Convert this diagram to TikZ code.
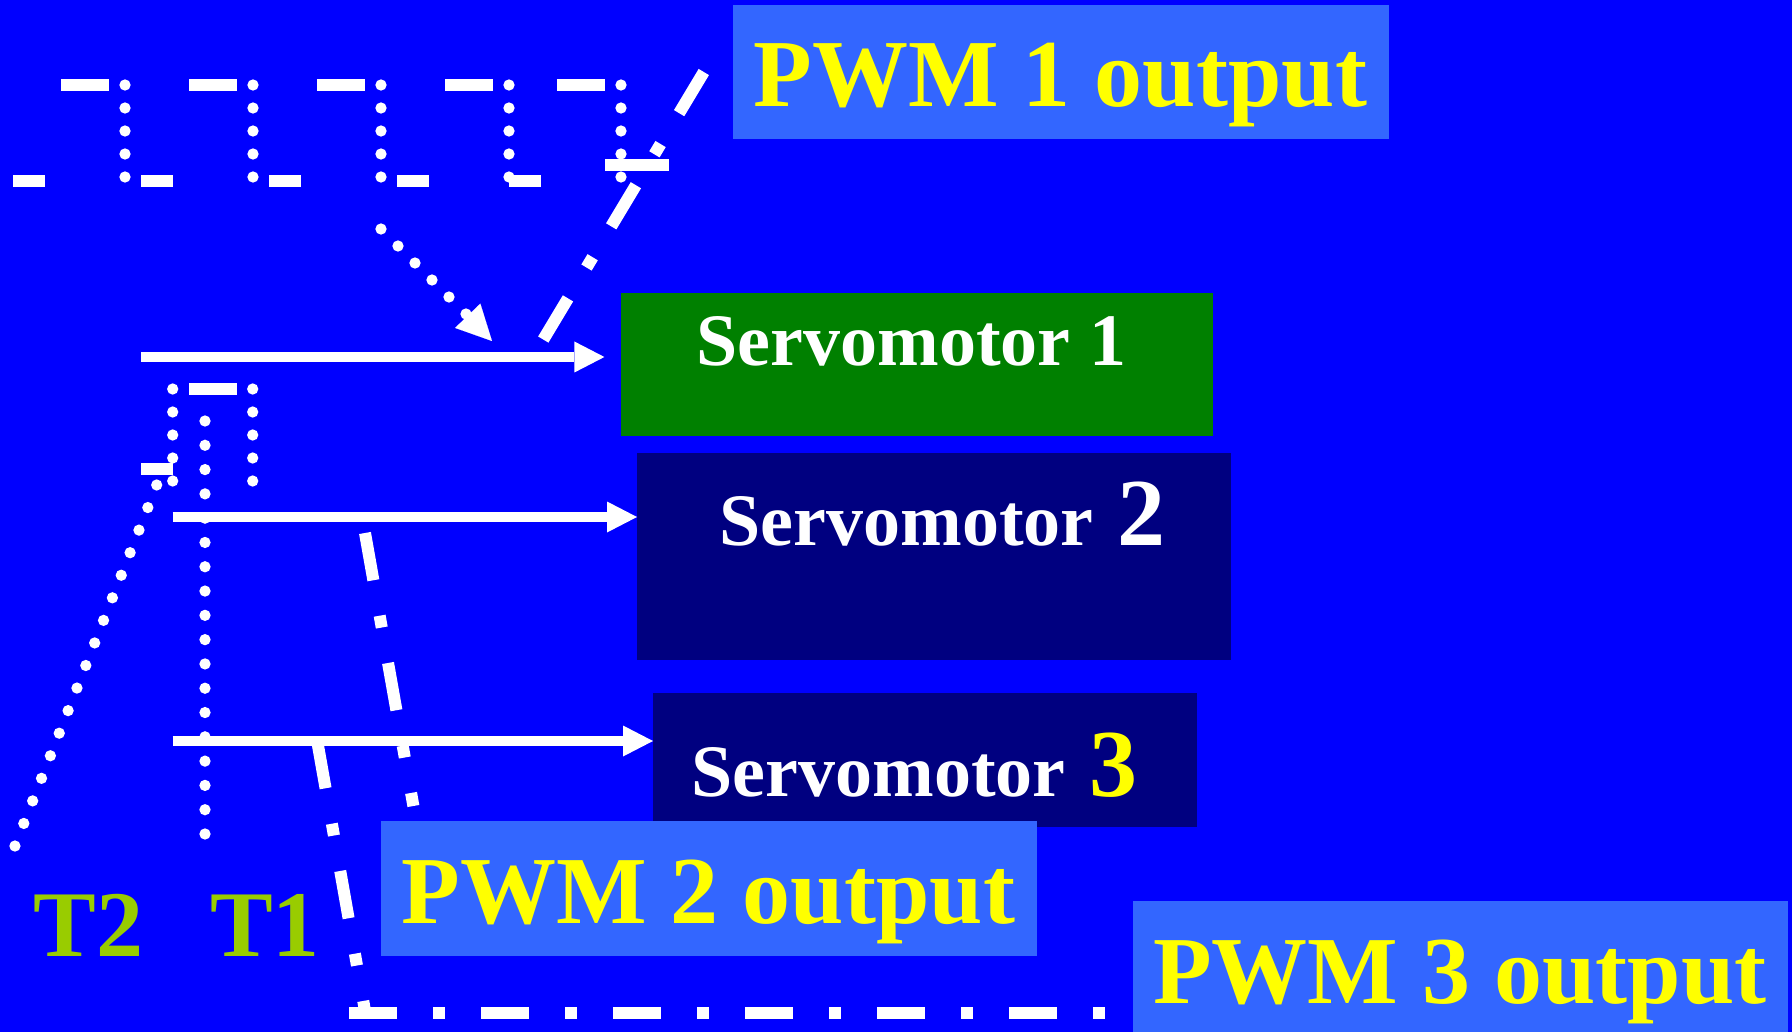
\documentclass[tikz,border=0pt]{standalone}
\usepackage{fontspec}
\setmainfont{Liberation Serif}
\usetikzlibrary{arrows.meta}
\definecolor{bgblue}{HTML}{0000FF}
\definecolor{pwmbox}{HTML}{3366FF}
\definecolor{tgreen}{HTML}{99CC00}
\definecolor{servogreen}{HTML}{008000}
\definecolor{servonavy}{HTML}{000080}
\definecolor{pwmyellow}{HTML}{FFFF00}
\begin{document}
\begin{tikzpicture}[x=1pt,y=-1pt,
  box/.style={draw=none, inner sep=0pt, outer sep=0pt, anchor=north west},
  pwmtext/.style={text=pwmyellow, anchor=base west, inner sep=0pt, font=\fontsize{96}{100}\selectfont\bfseries},
  ttext/.style={text=tgreen, anchor=base west, inner sep=0pt, font=\fontsize{94}{100}\selectfont\bfseries},
  servotext/.style={text=white, anchor=base west, inner sep=0pt, font=\fontsize{74}{80}\selectfont\bfseries},
  seg/.style={white, line width=11.5pt},
  dots/.style={white, line width=11.3pt, line cap=round, dash pattern=on 0pt off 23pt},
  sigline/.style={white, line width=10.7pt, -{Triangle[length=30pt,width=31pt,line width=0pt]}},
  pwmline/.style={white, line width=12pt, dash pattern=on 48pt off 36pt on 12pt off 36pt},
]
\fill[bgblue] (0,0) rectangle (1792,1032);
\useasboundingbox (0,0) rectangle (1792,1032);

% boxes
\node[box, fill=pwmbox, minimum width=656pt, minimum height=134pt] (pwm1box) at (733,5) {};
\node[box, fill=servogreen, minimum width=592pt, minimum height=143pt] (s1box) at (621,293) {};
\node[box, fill=servonavy, minimum width=594pt, minimum height=207pt] (s2box) at (637,453) {};
\node[box, fill=servonavy, minimum width=544pt, minimum height=134pt] (s3box) at (653,693) {};
\node[box, fill=pwmbox, minimum width=656pt, minimum height=135pt] (pwm2box) at (381,821) {};
\node[box, fill=pwmbox, minimum width=655pt, minimum height=140pt] (pwm3box) at (1133,901) {};

% texts
\node[pwmtext] (pwm1txt) at (753.5,107) {PWM 1 output};
\node[pwmtext] (pwm2txt) at (401.5,923) {PWM 2 output};
\node[pwmtext] (pwm3txt) at (1153,1003) {PWM 3 output};
\node[ttext] (t2) at (33.5,956) {T2};
\node[ttext] (t1) at (210,956) {T1};
\node[servotext] (s1txt) at (696.5,366) {Servomotor 1};
\node[servotext] (s2txt) at (719.5,545) {Servomotor{\fontsize{96}{100}\selectfont\space 2}};
\node[servotext] (s3txt) at (691.5,796) {Servomotor{\fontsize{96}{100}\selectfont\space\textcolor{pwmyellow}{3}}};

% top pulse train
\foreach \a/\b in {61/109,189/237,317/365,445/493,557/605}
  \draw[seg] (\a,85) -- (\b,85);
\foreach \a/\b in {13/45,141/173,269/301,397/429,509/541}
  \draw[seg] (\a,181) -- (\b,181);
\draw[seg] (605,165) -- (669,165);
\foreach \x in {125,253,381,509,621}
  \draw[dots] (\x,85) -- (\x,178);

% lower pulse
\draw[seg] (189,389) -- (237,389);
\draw[seg] (141,469) -- (173,469);
\foreach \x in {172.7,252.7}
  \draw[dots] (\x,389) -- (\x,482);
\coordinate (t1top) at (205,421);
\coordinate (t1bot) at (205,835);
\draw[dots, dash pattern=on 0pt off 24.294pt] (t1top) -- (t1bot);
\coordinate (t2top) at (156.7,485);
\coordinate (t2bot) at (14.6,846.9);
\draw[dots, dash pattern=on 0pt off 24.24pt] (t2top) -- (t2bot);

% dotted diagonal arrow
\coordinate (dgs) at (381,229);
\coordinate (dge) at (466.5,314.5);
\coordinate (dgtip) at (492,341);
\draw[dots, dash pattern=on 0pt off 24.04pt] (dgs) -- (dge);
\draw[white, line width=0.1pt, -{Triangle[length=35pt,width=35pt]}] (dge) -- (dgtip);

% PWM dash-dot lines
\coordinate (p1s) at (703.8,72);
\coordinate (p1e) at (542.4,341);
\draw[pwmline] (p1s) -- (p1e);
\coordinate (p2s) at (365,533);
\coordinate (p2e) at (413.4,806);
\draw[pwmline] (p2s) -- (p2e);
\coordinate (p3s) at (317.2,741);
\coordinate (p3m) at (364.5,1008);
\draw[pwmline] (p3s) -- (p3m);
\coordinate (p3h) at (349,1013);
\coordinate (p3e) at (1105,1013);
\draw[pwmline] (p3h) -- (p3e);

% signal arrows
\coordinate (a1s) at (141,357);
\coordinate (a2s) at (172.7,517);
\coordinate (a3s) at (172.7,741);
\draw[sigline] (a1s) -- ([xshift=-16.6pt]a1s -| s1box.west);
\draw[sigline] (a2s) -- (a2s -| s2box.west);
\draw[sigline] (a3s) -- (a3s -| s3box.west);
\end{tikzpicture}
\end{document}
